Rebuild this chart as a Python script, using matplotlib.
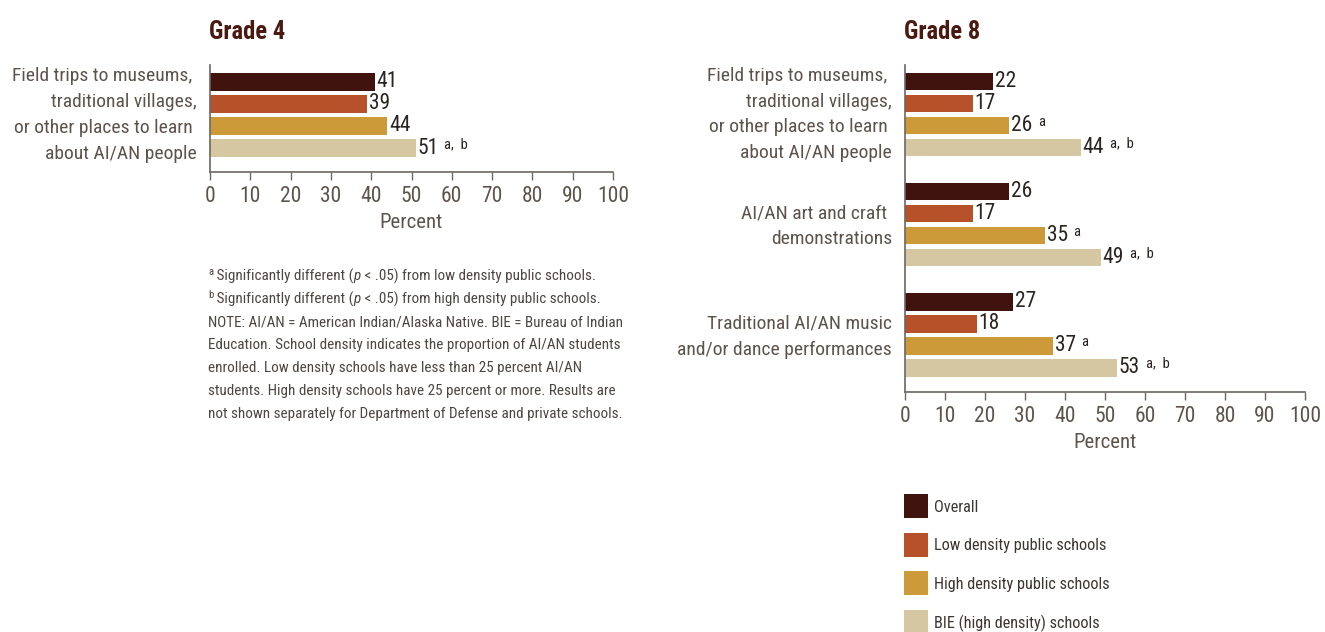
import matplotlib
matplotlib.use("Agg")
import matplotlib.pyplot as plt
from matplotlib import font_manager as fm
from matplotlib.font_manager import FontProperties
from matplotlib.patches import Rectangle

# ---- data ----
series_names = ["Overall", "Low density public schools",
                "High density public schools", "BIE (high density) schools"]
series_colors = ["#41130e", "#b65129", "#cc9a38", "#d5c7a1"]

g4_categories = ["Field trips to museums, \ntraditional villages,\nor other places to learn \nabout AI/AN people"]
g4_overall = [41]
g4_low = [39]
g4_high = [44]
g4_bie = [51]
g4_high_notes = [""]
g4_bie_notes = ["a, b"]

g8_categories = ["Field trips to museums, \ntraditional villages,\nor other places to learn \nabout AI/AN people",
                 "AI/AN art and craft \ndemonstrations",
                 "Traditional AI/AN music\nand/or dance performances"]
g8_overall = [22, 26, 27]
g8_low = [17, 17, 18]
g8_high = [26, 35, 37]
g8_bie = [44, 49, 53]
g8_high_notes = ["a", "a", "a"]
g8_bie_notes = ["a, b", "a, b", "a, b"]

x_ticks = list(range(0, 101, 10))

footnote_lines = [
    [("a", "sup"), (" Significantly different (", "n"), ("p", "i"), (" < .05) from low density public schools.", "n")],
    [("b", "sup"), (" Significantly different (", "n"), ("p", "i"), (" < .05) from high density public schools.", "n")],
    [("NOTE: AI/AN = American Indian/Alaska Native. BIE = Bureau of Indian", "n")],
    [("Education. School density indicates the proportion of AI/AN students", "n")],
    [("enrolled. Low density schools have less than 25 percent AI/AN", "n")],
    [("students. High density schools have 25 percent or more. Results are", "n")],
    [("not shown separately for Department of Defense and private schools.", "n")],
]

TITLE_C = "#4a1a12"
LABEL_C = "#5e534b"
AXIS_C = "#6d6661"
VAL_C = "#2a2420"
FOOT_C = "#4d4643"

W, H = 1325, 632
fig = plt.figure(figsize=(W / 100, H / 100), dpi=100)
renderer = fig.canvas.get_renderer()


# ---- choose the narrowest available font ----
def font_exists(fprop, must_contain=None):
    try:
        path = fm.findfont(fprop, fallback_to_default=False)
    except Exception:
        return False
    if must_contain and must_contain.lower() not in path.lower():
        return False
    return True


candidates = [
    (dict(family="Liberation Sans Narrow"), None),
    (dict(family="Roboto Condensed"), None),
    (dict(family="Open Sans Condensed"), None),
    (dict(family="DejaVu Sans", stretch="condensed"), "condensed"),
    (dict(family="Noto Sans", stretch="condensed"), "condensed"),
    (dict(family="Roboto"), None),
    (dict(family="Liberation Sans"), None),
    (dict(family="Lato"), None),
    (dict(family="DejaVu Sans"), None),
]


def measure(s, size, **kw):
    t = fig.text(0, 0, s, fontsize=size, **kw)
    bb = t.get_window_extent(renderer=renderer)
    t.remove()
    return bb.width, bb.height


best = None
for kw, must in candidates:
    fprop = FontProperties(**kw)
    if not font_exists(fprop, must):
        continue
    w, _ = measure("Field trips to museums,", 10, fontproperties=fprop)
    if best is None or w < best[1]:
        best = (kw, w)
BASE = best[0]
FAM = [BASE["family"], "DejaVu Sans"]
STRETCH = BASE.get("stretch", "normal")


def fp(size, weight="normal", style="normal"):
    return FontProperties(family=FAM, stretch=STRETCH, size=size, weight=weight, style=style)


def fit(s, target_w, weight="normal"):
    w, _ = measure(s, 10, fontproperties=fp(10, weight))
    return 10 * target_w / w


cat_size = fit("Field trips to museums,", 178)
foot_size = fit("NOTE: AI/AN = American Indian/Alaska Native. BIE = Bureau of Indian", 412)
leg_size = fit("Low density public schools", 173)
pct_size = min(fit("Percent", 57) * 1.1, 16)
tick_size = min(fit("100", 28) * 1.2, 15.5)
val_size = min(fit("41", 19) * 1.2, 15.5)
title_size = min(fit("Grade 4", 73, "bold") * 1.05, 18)
sup_size = val_size * 0.68

PT = 0.72  # points per pixel at 100 dpi


def px_axes(left, top, right, bottom):
    return fig.add_axes([left / W, (H - bottom) / H, (right - left) / W, (bottom - top) / H])


def draw_panel(ax, title, cats, series, notes, ylim, title_x):
    n_series = len(series)
    group_gap = 5
    for g in range(len(cats)):
        for i, vals in enumerate(series):
            y = g * group_gap + i
            v = vals[g]
            ax.barh(y, v, height=0.8, color=series_colors[i], edgecolor="none")
            num = f"{v}"
            ax.annotate(num, xy=(v, y), xytext=(1.5 * PT, 0), textcoords="offset points",
                        va="center", ha="left", fontproperties=fp(val_size), color=VAL_C)
            note = notes[i][g] if notes[i] is not None else ""
            if note:
                nw, _ = measure(num, val_size, fontproperties=fp(val_size))
                ax.annotate(note.replace(", ", ",  "), xy=(v, y),
                            xytext=((1.5 + nw + 6) * PT, 4 * PT),
                            textcoords="offset points", va="center", ha="left",
                            fontproperties=fp(sup_size), color=VAL_C)
        center = g * group_gap + (n_series - 1) / 2
        lines = cats[g].split("\n")
        n = len(lines)
        for k, line in enumerate(lines):
            off = (k - (n - 1) / 2) * 25.7 + (2 if n == 2 else 0)
            ax.annotate(line, xy=(0, center), xycoords=("axes fraction", "data"),
                        xytext=(-13 * PT, -off * PT), textcoords="offset points",
                        ha="right", va="center", fontproperties=fp(cat_size), color=LABEL_C)
    ax.set_ylim(*ylim)
    ax.set_xlim(0, 100)
    ax.set_yticks([])
    ax.set_xticks(x_ticks)
    ax.set_xticklabels([str(t) for t in x_ticks], fontproperties=fp(tick_size), color=LABEL_C)
    ax.tick_params(axis="x", length=6, width=1, color=AXIS_C, pad=4)
    for s in ["top", "right"]:
        ax.spines[s].set_visible(False)
    for s in ["left", "bottom"]:
        ax.spines[s].set_color(AXIS_C)
        ax.spines[s].set_linewidth(1.2)
    ax.annotate("Percent", xy=(0.5, 0), xycoords="axes fraction", xytext=(0, -51 * PT),
                textcoords="offset points", ha="center", va="center",
                fontproperties=fp(pct_size), color=LABEL_C)
    fig.text(title_x / W, 1 - 39 / H, title, ha="left", va="baseline",
             fontproperties=fp(title_size, "bold"), color=TITLE_C)


ax4 = px_axes(210, 65, 613, 172)
draw_panel(ax4, "Grade 4", g4_categories,
           [g4_overall, g4_low, g4_high, g4_bie],
           [None, None, g4_high_notes, g4_bie_notes], (4.09, -0.77), 209)

ax8 = px_axes(905, 65, 1305, 392)
draw_panel(ax8, "Grade 8", g8_categories,
           [g8_overall, g8_low, g8_high, g8_bie],
           [None, None, g8_high_notes, g8_bie_notes], (14.1, -0.75), 904)

# ---- footnote ----
for li, pieces in enumerate(footnote_lines):
    x = 208
    yc = 276 + li * 23
    for text, style in pieces:
        if style == "sup":
            prop = fp(foot_size * 0.7)
            t = fig.text(x / W, 1 - (yc - 4) / H, text, ha="left", va="center",
                         fontproperties=prop, color=FOOT_C)
        else:
            prop = fp(foot_size, style="italic" if style == "i" else "normal")
            t = fig.text(x / W, 1 - yc / H, text, ha="left", va="center",
                         fontproperties=prop, color=FOOT_C)
        x += t.get_window_extent(renderer=renderer).width

# ---- legend (drawn as swatches + labels) ----
for k, (name, col) in enumerate(zip(series_names, series_colors)):
    top = 494 + k * 38.7
    fig.patches.append(Rectangle((904 / W, 1 - (top + 24) / H), 24 / W, 24 / H,
                                 transform=fig.transFigure, facecolor=col,
                                 edgecolor="none"))
    fig.text(934 / W, 1 - (top + 13) / H, name, ha="left", va="center",
             fontproperties=fp(leg_size), color="#3d3632")

fig.savefig("out.png", dpi=100)
